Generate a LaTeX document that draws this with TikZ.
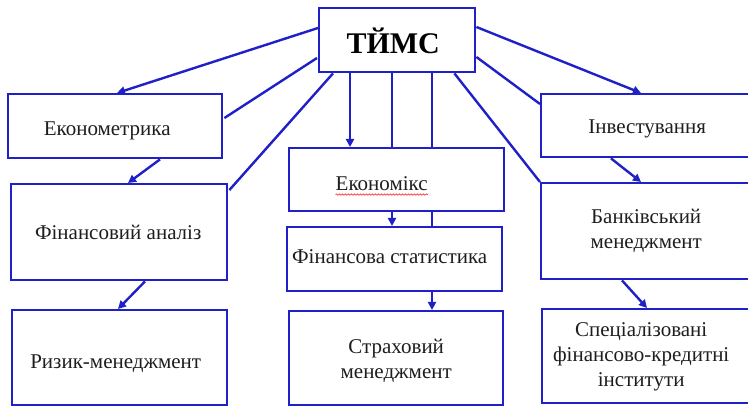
\documentclass[tikz,border=0pt]{standalone}
\usepackage{fontspec}
\setmainfont{Liberation Serif}
\usetikzlibrary{arrows.meta,calc,decorations.pathmorphing}
\definecolor{lineblue}{RGB}{32,32,200}
\definecolor{txtgray}{RGB}{30,30,30}
\begin{document}
\begin{tikzpicture}[x=1pt,y=-1pt,
  box/.style={draw=lineblue,line width=2.4pt,fill=white,rectangle,inner sep=0pt,anchor=north west},
  lbl/.style={text=txtgray,font=\fontsize{21}{25}\selectfont,align=center,inner sep=0pt},
  conn/.style={draw=lineblue,line width=2.4pt},
  arr/.style={conn,-{Triangle[length=8pt,width=8pt]}},
  spell/.style={draw=red!80,line width=0.7pt,decorate,decoration={snake,amplitude=0.7pt,segment length=3pt}}]
\clip (0,0) rectangle (748,406);
\fill[white] (0,0) rectangle (748,406);
% boxes
\node[box,minimum width=156pt,minimum height=64pt] (tims) at (318,7) {};
\node[box,minimum width=214pt,minimum height=64pt] (econ) at (7,93) {};
\node[box,minimum width=216pt,minimum height=96pt] (fin) at (10,183) {};
\node[box,minimum width=215pt,minimum height=95pt] (risk) at (11,309) {};
\node[box,minimum width=215pt,minimum height=63pt] (ekx) at (288,147) {};
\node[box,minimum width=215pt,minimum height=64pt] (stat) at (286,226) {};
\node[box,minimum width=214pt,minimum height=94pt] (strah) at (288,310) {};
\node[box,minimum width=220pt,minimum height=63pt] (inv) at (540,93) {};
\node[box,minimum width=220pt,minimum height=96pt] (bank) at (540,182) {};
\node[box,minimum width=220pt,minimum height=94pt] (spec) at (541,308) {};
% texts
\node[lbl,text=black,font=\bfseries\fontsize{30}{36}\selectfont] (timst) at ($(tims.center)+(-4,1)$) {ТЙМС};
\node[lbl] (econt) at ($(econ.center)+(-8,5)$) {Економетрика};
\node[lbl] (fint) at ($(fin.center)+(-1,0)$) {Фінансовий аналіз};
\node[lbl] (riskt) at ($(risk.center)+(-4,6)$) {Ризик-менеджмент};
\node[lbl] (ekxt) at ($(ekx.center)+(-15,4)$) {Економікс};
\node[lbl] (statt) at ($(stat.center)+(-5,-3)$) {Фінансова статистика};
\node[lbl] (straht) at ($(strah.center)+(0,3)$) {Страховий\\менеджмент};
\node[lbl] (invt) at ($(inv.center)+(-4,3)$) {Інвестування};
\node[lbl] (bankt) at ($(bank.center)+(-5,0)$) {Банківський\\менеджмент};
\node[lbl] (spect) at ($(spec.center)+(-11,1)$) {Спеціалізовані\\фінансово-кредитні\\інститути};
\draw[spell] ($(ekxt.base west)+(0,4)$) -- ($(ekxt.base east)+(0,4)$);
% connectors
\draw[arr] ($(tims.north west)+(0,21)$) -- ($(econ.north west)+(110,0)$);
\draw[conn] ($(tims.north west)+(-1,51)$) -- ($(econ.north east)+(1,25)$);
\draw[conn] ($(tims.south west)+(15,0)$) -- ($(fin.north east)+(1,7)$);
\draw[arr] ($(tims.south west)+(32,0)$) -- ($(ekx.north west)+(62,0)$);
\draw[conn] ($(tims.south west)+(74,0)$) -- ($(ekx.north west)+(104,0)$);
\draw[arr] ($(ekx.south west)+(104,0)$) -- ($(stat.north west)+(106,0)$);
\draw[conn] ($(tims.south west)+(114,0)$) -- ($(ekx.north west)+(144,0)$);
\draw[conn] ($(ekx.south west)+(144,0)$) -- ($(stat.north west)+(146,0)$);
\draw[arr] ($(stat.south west)+(146,0)$) -- ($(strah.north west)+(144,0)$);
\draw[arr] ($(tims.north east)+(0,20)$) -- ($(inv.north west)+(101,0)$);
\draw[conn] ($(tims.north east)+(0,50)$) -- ($(inv.north west)+(0,11)$);
\draw[conn] ($(tims.south east)+(-22,0)$) -- (bank.north west);
\draw[arr] ($(inv.south west)+(71,0)$) -- ($(bank.north west)+(101,0)$);
\draw[arr] ($(bank.south west)+(82,0)$) -- ($(spec.north west)+(106,0)$);
\draw[arr] ($(econ.south west)+(153,0)$) -- ($(fin.north west)+(118,0)$);
\draw[arr] ($(fin.south west)+(135,0)$) -- ($(risk.north west)+(107,0)$);
\end{tikzpicture}
\end{document}
